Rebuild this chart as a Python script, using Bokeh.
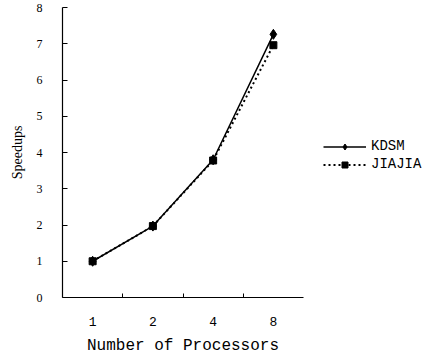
from bokeh.plotting import figure
from bokeh.models import Range1d, FixedTicker, Legend, LegendItem
from bokeh.embed import file_html
from bokeh.resources import INLINE

processors = ["1", "2", "4", "8"]
kdsm = [1.0, 1.97, 3.8, 7.26]
jiajia = [1.0, 1.97, 3.78, 6.96]
y_ticks = [0, 1, 2, 3, 4, 5, 6, 7, 8]

xpos = [i + 1 for i in range(len(processors))]

p = figure(width=417, height=350, frame_width=241, frame_height=290,
           output_backend="svg", toolbar_location=None,
           x_range=Range1d(0.5, len(processors) + 0.5), y_range=Range1d(0, 8),
           min_border_left=62, min_border_right=114, min_border_top=7, min_border_bottom=53)
p.outline_line_color = None
p.xgrid.visible = False
p.ygrid.visible = False
p.background_fill_color = "white"
p.border_fill_color = "white"

r1l = p.line(xpos, kdsm, line_color="black", line_width=1.5)
r1m = p.scatter(xpos, kdsm, marker="diamond", size=10, color="black")
r2l = p.line(xpos, jiajia, line_color="black", line_width=2, line_dash="2 3")
r2m = p.scatter(xpos, jiajia, marker="square", size=7, color="black")

xa = p.xaxis[0]
xa.ticker = FixedTicker(ticks=xpos, minor_ticks=[x + 0.5 for x in xpos[:-1]])
xa.major_label_overrides = {x: lab for x, lab in zip(xpos, processors)}
xa.major_tick_in = 0
xa.major_tick_out = 0
xa.minor_tick_in = 4
xa.minor_tick_out = 0
xa.axis_line_color = "black"
xa.axis_line_width = 1.2
xa.major_label_text_font = "Liberation Mono"
xa.major_label_text_font_size = "13px"
xa.major_label_text_color = "black"
xa.major_label_standoff = 19
xa.axis_label = "Number of Processors"
xa.axis_label_text_font = "Liberation Mono"
xa.axis_label_text_font_size = "16px"
xa.axis_label_text_font_style = "normal"
xa.axis_label_text_color = "black"
xa.axis_label_standoff = 8

ya = p.yaxis[0]
ya.ticker = FixedTicker(ticks=y_ticks, minor_ticks=[])
ya.major_tick_in = 5
ya.major_tick_out = 0
ya.minor_tick_in = 0
ya.minor_tick_out = 0
ya.axis_line_color = "black"
ya.axis_line_width = 1.2
ya.major_label_text_font = "Liberation Serif"
ya.major_label_text_font_size = "12px"
ya.major_label_text_color = "black"
ya.major_label_standoff = 20
ya.axis_label = "Speedups"
ya.axis_label_text_font = "Liberation Serif"
ya.axis_label_text_font_size = "14px"
ya.axis_label_text_font_style = "normal"
ya.axis_label_text_color = "black"
ya.axis_label_standoff = 9

legend = Legend(items=[LegendItem(label="KDSM", renderers=[r1l, r1m]),
                       LegendItem(label="JIAJIA", renderers=[r2l, r2m])],
                location=(20, 125), orientation="vertical")
legend.border_line_color = None
legend.background_fill_alpha = 0
legend.margin = 0
legend.padding = 0
legend.glyph_width = 43
legend.glyph_height = 15
legend.spacing = 2
legend.label_standoff = 5
legend.label_text_font = "Liberation Mono"
legend.label_text_font_size = "14px"
legend.label_text_color = "black"
p.add_layout(legend, "right")

open("out.html", "w").write(file_html(p, INLINE))
